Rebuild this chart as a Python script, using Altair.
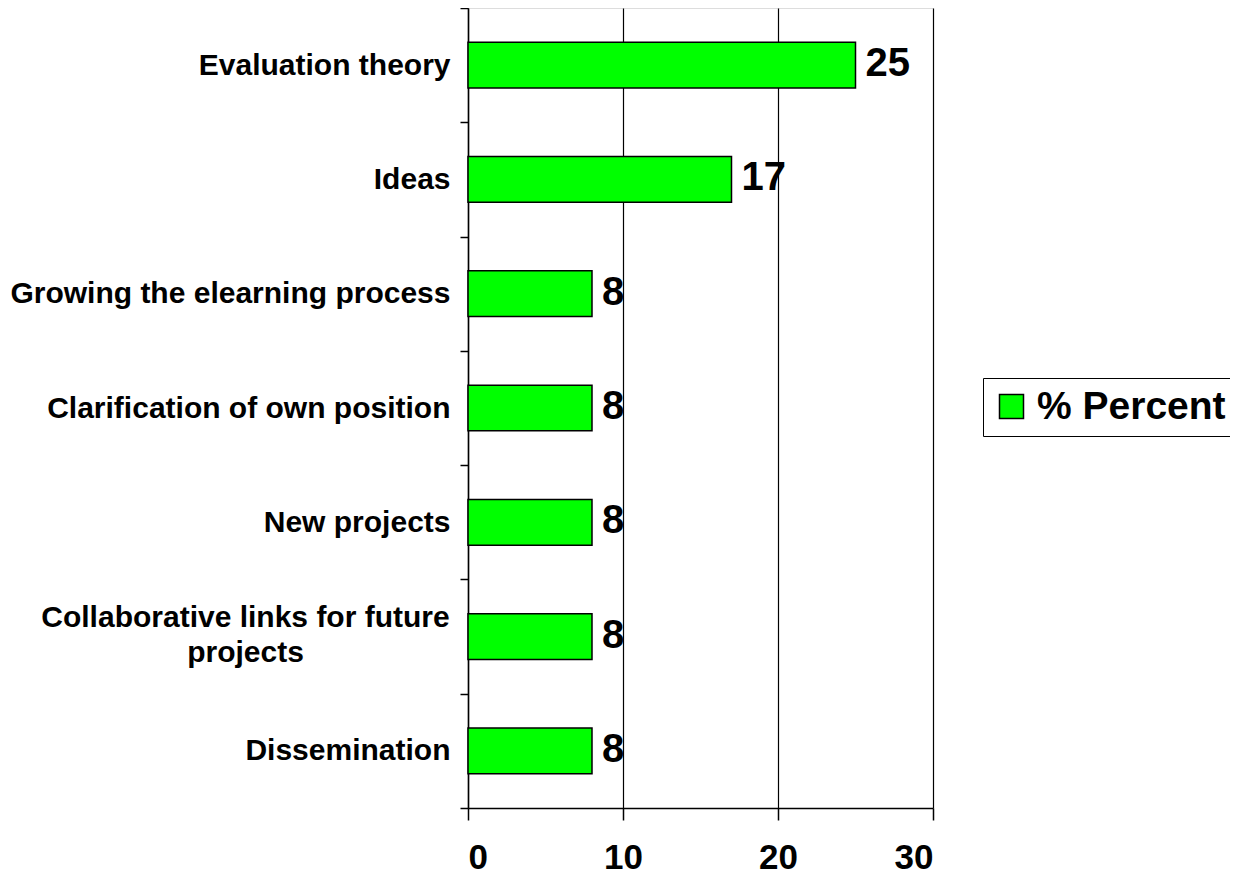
import altair as alt
import pandas as pd

categories = [
    "Evaluation theory",
    "Ideas",
    "Growing the elearning process",
    "Clarification of own position",
    "New projects",
    "Collaborative links for future projects",
    "Dissemination",
]
values = [25, 17, 8, 8, 8, 8, 8]
series_name = "% Percent"
x_ticks = [0, 10, 20, 30]

df = pd.DataFrame({"category": categories, "value": values, "series": [series_name] * len(categories)})

FONT = "Liberation Sans"
multi = "Collaborative links for future projects"
is_multi = f"datum.value == '{multi}'"

y_enc = alt.Y(
    "category:N",
    sort=categories,
    scale=alt.Scale(paddingInner=0, paddingOuter=0),
    axis=alt.Axis(
        title=None,
        labelFont=FONT,
        labelFontSize=30,
        labelFontWeight="bold",
        labelColor="black",
        labelLimit=0,
        labelPadding=alt.condition(is_multi, alt.value(215), alt.value(10)),
        labelAlign=alt.condition(is_multi, alt.value("center"), alt.value("right")),
        labelOffset=alt.condition(is_multi, alt.value(-19), alt.value(0)),
        labelBaseline="middle",
        labelLineHeight=35,
        labelExpr=f"datum.label == '{multi}' ? ['Collaborative links for future', 'projects'] : datum.label",
        tickBand="extent",
        tickSize=8,
        tickColor="black",
        tickWidth=1.5,
        domainColor="black",
        domainWidth=1.5,
        grid=False,
    ),
)

x_enc = alt.X(
    "value:Q",
    scale=alt.Scale(domain=[0, 30], nice=False),
    axis=alt.Axis(
        title=None,
        values=x_ticks,
        labelFont=FONT,
        labelFontSize=35,
        labelFontWeight="bold",
        labelColor="black",
        labelPadding=20,
        labelBaseline="top",
        tickSize=12,
        tickColor="black",
        tickWidth=1.5,
        domainColor="black",
        domainWidth=1.5,
        grid=True,
        gridColor="black",
        gridWidth=1.2,
        gridOpacity=1,
    ),
)

bars = alt.Chart(df).mark_bar(
    stroke="black", strokeWidth=1.5, height=alt.RelativeBandSize(0.4)
).encode(
    y=y_enc,
    x=x_enc,
    color=alt.Color(
        "series:N",
        scale=alt.Scale(domain=[series_name], range=["#00ff00"]),
        legend=alt.Legend(
            title=None,
            orient="none",
            legendX=515,
            legendY=370,
            strokeColor="black",
            padding=9,
            symbolType="square",
            symbolSize=576,
            symbolStrokeColor="black",
            symbolStrokeWidth=1.5,
            symbolOffset=0,
            labelOffset=6,
            labelFont=FONT,
            labelFontSize=39,
            labelFontWeight="bold",
            labelColor="black",
            labelLimit=0,
        ),
    ),
)

labels = alt.Chart(df).mark_text(
    align="left", baseline="middle", dx=10, dy=-1,
    font=FONT, fontSize=40, fontWeight="bold", color="black",
).encode(
    y=alt.Y("category:N", sort=categories),
    x="value:Q",
    text="value:Q",
)

chart = (
    alt.layer(bars, labels)
    .properties(
        width=465,
        height=800,
        autosize=alt.AutoSizeParams(type="none"),
        padding={"left": 460, "top": 0, "right": 297, "bottom": 65},
    )
    .configure_view(stroke="black", strokeWidth=1.5)
    .configure(background="white")
)

chart.save("out.html", embed_options={"renderer": "svg", "actions": False})
